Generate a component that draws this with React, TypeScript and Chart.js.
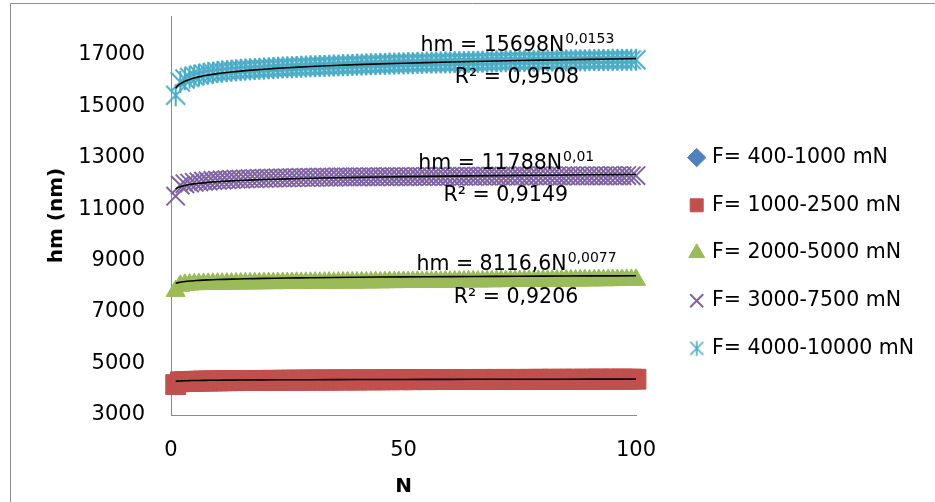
import React, { useEffect, useRef } from 'react';
import { Chart, registerables } from 'chart.js';

Chart.register(...registerables);

// ---------------- data ----------------
const N_VALUES: number[] = Array.from({ length: 100 }, (_, i) => i + 1);

const SERIES_LABELS = [
  'F= 400-1000 mN',
  'F= 1000-2500 mN',
  'F= 2000-5000 mN',
  'F= 3000-7500 mN',
  'F= 4000-10000 mN',
];

const F_400_1000: number[] = [];

const F_1000_2500: number[] = [
  4180, 4290, 4300, 4305, 4310, 4315, 4320, 4320, 4325, 4325,
  4330, 4330, 4335, 4335, 4340, 4335, 4340, 4345, 4340, 4345,
  4345, 4350, 4345, 4350, 4350, 4355, 4350, 4355, 4355, 4360,
  4355, 4360, 4360, 4355, 4360, 4365, 4360, 4365, 4365, 4360,
  4365, 4370, 4365, 4370, 4365, 4370, 4370, 4375, 4370, 4370,
  4375, 4370, 4375, 4375, 4370, 4375, 4380, 4375, 4375, 4380,
  4375, 4380, 4380, 4375, 4380, 4380, 4385, 4380, 4380, 4385,
  4380, 4385, 4380, 4385, 4385, 4380, 4385, 4385, 4390, 4385,
  4385, 4390, 4385, 4390, 4385, 4390, 4390, 4385, 4390, 4390,
  4390, 4395, 4390, 4390, 4395, 4390, 4395, 4390, 4395, 4390,
];

const F_2000_5000: number[] = [
  7820, 8020, 8055, 8070, 8080, 8085, 8090, 8095, 8095, 8100,
  8100, 8105, 8105, 8110, 8110, 8115, 8115, 8115, 8120, 8120,
  8125, 8120, 8125, 8130, 8125, 8130, 8135, 8130, 8135, 8135,
  8140, 8135, 8140, 8145, 8140, 8145, 8145, 8150, 8145, 8150,
  8155, 8150, 8155, 8160, 8155, 8160, 8165, 8160, 8165, 8170,
  8165, 8170, 8175, 8170, 8175, 8180, 8175, 8180, 8185, 8180,
  8185, 8190, 8185, 8190, 8195, 8190, 8195, 8200, 8195, 8200,
  8205, 8200, 8205, 8210, 8205, 8210, 8215, 8210, 8215, 8220,
  8215, 8220, 8225, 8220, 8225, 8230, 8225, 8230, 8235, 8230,
  8235, 8240, 8235, 8240, 8245, 8240, 8245, 8250, 8245, 8250,
];

const F_3000_7500: number[] = [
  11500, 11930, 11980, 12010, 12040, 12060, 12080, 12090, 12110, 12120,
  12130, 12140, 12150, 12160, 12160, 12170, 12180, 12180, 12190, 12190,
  12200, 12200, 12210, 12210, 12210, 12220, 12220, 12230, 12230, 12230,
  12230, 12240, 12240, 12240, 12240, 12250, 12250, 12250, 12250, 12250,
  12250, 12250, 12260, 12250, 12260, 12260, 12260, 12260, 12260, 12260,
  12260, 12260, 12270, 12260, 12270, 12270, 12270, 12270, 12270, 12270,
  12270, 12270, 12270, 12280, 12270, 12280, 12280, 12280, 12280, 12280,
  12280, 12280, 12280, 12290, 12280, 12290, 12280, 12290, 12290, 12290,
  12290, 12290, 12290, 12280, 12290, 12290, 12290, 12290, 12290, 12290,
  12290, 12290, 12290, 12290, 12300, 12290, 12290, 12300, 12290, 12300,
];

const F_4000_10000: number[] = [
  15420, 15940, 16050, 16110, 16170, 16210, 16250, 16280, 16300, 16330,
  16340, 16360, 16380, 16390, 16410, 16420, 16430, 16440, 16450, 16460,
  16470, 16480, 16490, 16500, 16510, 16510, 16520, 16530, 16540, 16550,
  16550, 16560, 16560, 16570, 16580, 16580, 16590, 16590, 16600, 16610,
  16610, 16620, 16630, 16630, 16640, 16640, 16650, 16650, 16660, 16660,
  16670, 16670, 16680, 16680, 16690, 16690, 16690, 16700, 16700, 16700,
  16710, 16710, 16710, 16720, 16720, 16720, 16730, 16730, 16730, 16740,
  16740, 16740, 16750, 16750, 16750, 16750, 16760, 16760, 16760, 16760,
  16770, 16770, 16770, 16770, 16780, 16780, 16780, 16780, 16780, 16790,
  16790, 16790, 16790, 16790, 16800, 16800, 16800, 16800, 16800, 16800,
];

const SERIES_VALUES = [F_400_1000, F_1000_2500, F_2000_5000, F_3000_7500, F_4000_10000];

// power trendlines hm = a * N^b (series index, a, b)
const TREND_SERIES = [1, 2, 3, 4];
const TREND_A = [4310, 8116.6, 11788, 15698];
const TREND_B = [0.0042, 0.0077, 0.01, 0.0153];
const TREND_X = [1, 1.25, 1.5, 1.75, 2, 2.5, 3, 4, 5, 6, 8, 10, 13, 16, 20, 25, 30, 40, 50, 60, 70, 80, 90, 100];

// equation labels
const EQ_MAIN = ['hm = 15698N', 'hm = 11788N', 'hm = 8116,6N'];
const EQ_EXP = ['0,0153', '0,01', '0,0077'];
const EQ_R2 = ['R² = 0,9508', 'R² = 0,9149', 'R² = 0,9206'];

const X_TICKS = [0, 50, 100];
const Y_TICKS = [3000, 5000, 7000, 9000, 11000, 13000, 15000, 17000];

// ---------------- styles ----------------
const COLORS = ['#4F81BD', '#C0504D', '#9BBB59', '#8064A2', '#4BACC6'];
const FONT = 'DejaVu Sans';

// label anchor positions (in data units): [x, eq baseline, R² baseline]
const EQ_POS = [
  [74.4, 17140, 15897],
  [72.0, 12556, 11313],
  [74.2, 8633, 7370],
];

function makeStar(size: number, arm: number, vert: number, lw: number, color: string) {
  const c = document.createElement('canvas');
  c.width = size;
  c.height = size;
  const g = c.getContext('2d')!;
  g.strokeStyle = color;
  g.lineWidth = lw;
  const m = size / 2;
  g.beginPath();
  g.moveTo(m - arm, m - arm);
  g.lineTo(m + arm, m + arm);
  g.moveTo(m + arm, m - arm);
  g.lineTo(m - arm, m + arm);
  g.moveTo(m, m - vert);
  g.lineTo(m, m + vert);
  g.stroke();
  return c;
}

const framePlugin = {
  id: 'frame',
  beforeDraw(chart: any) {
    const { ctx, width, height } = chart;
    ctx.save();
    ctx.strokeStyle = '#8e8e8e';
    ctx.lineWidth = 1;
    ctx.beginPath();
    ctx.moveTo(10.5, height);
    ctx.lineTo(10.5, 3.5);
    ctx.lineTo(width, 3.5);
    ctx.stroke();
    ctx.restore();
  },
};

const equationPlugin = {
  id: 'equations',
  afterDatasetsDraw(chart: any) {
    const { ctx, scales } = chart;
    const xs = scales.x;
    const ys = scales.y;
    ctx.save();
    ctx.fillStyle = '#000';
    ctx.textBaseline = 'alphabetic';
    EQ_POS.forEach((p, i) => {
      const cx = xs.getPixelForValue(p[0]);
      const yEq = ys.getPixelForValue(p[1]);
      const yR2 = ys.getPixelForValue(p[2]);
      ctx.font = `20.5px "${FONT}"`;
      const wMain = ctx.measureText(EQ_MAIN[i]).width;
      ctx.font = `14px "${FONT}"`;
      const wExp = ctx.measureText(EQ_EXP[i]).width;
      const left = cx - (wMain + wExp) / 2;
      ctx.textAlign = 'left';
      ctx.font = `20.5px "${FONT}"`;
      ctx.fillText(EQ_MAIN[i], left, yEq);
      ctx.font = `14px "${FONT}"`;
      ctx.fillText(EQ_EXP[i], left + wMain + 1, yEq - 8);
      ctx.font = `20.5px "${FONT}"`;
      ctx.textAlign = 'center';
      ctx.fillText(EQ_R2[i], cx, yR2);
    });
    ctx.restore();
  },
};

export default function App() {
  const canvasRef = useRef<HTMLCanvasElement | null>(null);

  useEffect(() => {
    if (!canvasRef.current) return;
    Chart.defaults.font.family = FONT;
    Chart.defaults.color = '#000';

    const plotStar = makeStar(24, 9.5, 11, 2, COLORS[4]);
    const legendStar = makeStar(18, 6.5, 7.5, 1.6, COLORS[4]);

    const styles: any[] = ['rectRot', 'rect', 'triangle', 'crossRot', plotStar];
    const radii = [10, 14, 11, 13, 12];
    const widths = [1, 1, 1, 2, 2];

    const scatterSets = SERIES_LABELS.map((label, i) => ({
      type: 'scatter' as const,
      label,
      data: SERIES_VALUES[i].map((v, k) => ({ x: N_VALUES[k], y: v })),
      pointStyle: styles[i],
      pointRadius: radii[i],
      pointHoverRadius: radii[i],
      backgroundColor: COLORS[i],
      borderColor: COLORS[i],
      borderWidth: widths[i],
      showLine: false,
      order: 1,
      clip: false as any,
      xAxisID: 'x',
      yAxisID: 'y',
    }));

    const trendSets = TREND_SERIES.map((s, j) => ({
      type: 'line' as const,
      label: 'trend ' + SERIES_LABELS[s],
      data: TREND_X.map((n) => ({ x: n, y: TREND_A[j] * Math.pow(n, TREND_B[j]) })),
      borderColor: '#000',
      borderWidth: 1.6,
      pointRadius: 0,
      fill: false,
      tension: 0.3,
      order: 0,
      clip: false as any,
      xAxisID: 'x',
      yAxisID: 'y',
    }));

    const hiddenAxis = (pos: string, axis: string, size: number) => ({
      type: 'linear',
      position: pos,
      axis,
      display: true,
      grid: { display: false, drawTicks: false },
      border: { display: false },
      ticks: { display: false },
      afterFit: (s: any) => {
        if (axis === 'x') s.height = size;
        else s.width = size;
        s.paddingTop = 0;
        s.paddingBottom = 0;
        s.paddingLeft = 0;
        s.paddingRight = 0;
      },
    });

    const chart = new Chart(canvasRef.current, {
      type: 'scatter',
      data: { datasets: [...scatterSets, ...trendSets] as any },
      plugins: [framePlugin, equationPlugin],
      options: {
        responsive: false,
        animation: false,
        events: [],
        layout: { padding: { top: 4, left: 20, right: 20.5, bottom: 0 } },
        plugins: {
          tooltip: { enabled: false },
          title: { display: false },
          legend: {
            position: 'right',
            align: 'center',
            maxWidth: 250,
            labels: {
              usePointStyle: true,
              boxWidth: 10,
              boxHeight: 13,
              padding: 27.2,
              color: '#000',
              font: { family: FONT, size: 20.5 },
              generateLabels: (ch: any) => {
                const items = (Chart.defaults.plugins.legend.labels as any).generateLabels(ch);
                return items
                  .filter((it: any) => it.datasetIndex < SERIES_LABELS.length)
                  .map((it: any) => (it.datasetIndex === 4 ? { ...it, pointStyle: legendStar } : it));
              },
            },
          },
        },
        scales: {
          x: {
            type: 'linear',
            position: 'bottom',
            min: 0,
            max: 100,
            afterBuildTicks: (s: any) => {
              s.ticks = X_TICKS.map((v) => ({ value: v }));
            },
            afterFit: (s: any) => {
              s.height = 87;
              s.paddingLeft = 0;
              s.paddingRight = 0;
            },
            grid: { display: false, drawTicks: false },
            border: { display: true, color: '#8a8a8a', width: 1 },
            ticks: {
              padding: 23,
              maxRotation: 0,
              autoSkip: false,
              color: '#000',
              font: { family: FONT, size: 21 },
              callback: (v: any) => String(v),
            },
            title: {
              display: true,
              text: 'N',
              color: '#000',
              font: { family: FONT, size: 20, weight: 'bold' },
              padding: { top: 0, bottom: 3 },
            },
          },
          y: {
            type: 'linear',
            position: 'left',
            min: 3000,
            max: 18500,
            afterBuildTicks: (s: any) => {
              s.ticks = Y_TICKS.map((v) => ({ value: v }));
            },
            afterFit: (s: any) => {
              s.width = 151;
              s.paddingTop = 0;
              s.paddingBottom = 0;
            },
            grid: { display: false, drawTicks: false },
            border: { display: true, color: '#8a8a8a', width: 1 },
            ticks: {
              padding: 26,
              color: '#000',
              font: { family: FONT, size: 21 },
              callback: (v: any) => String(v),
            },
            title: {
              display: true,
              text: 'hm (nm)',
              color: '#000',
              font: { family: FONT, size: 20, weight: 'bold' },
              padding: { top: 25, bottom: 0 },
            },
          },
          xTop: hiddenAxis('top', 'x', 12),
          yRight: hiddenAxis('right', 'y', 28.5),
        } as any,
      },
    } as any);

    return () => chart.destroy();
  }, []);

  return (
    <div style={{ position: 'absolute', left: 0, top: 0, width: 935, height: 502, background: '#fff' }}>
      <canvas ref={canvasRef} width={935} height={502} style={{ display: 'block' }} />
    </div>
  );
}
